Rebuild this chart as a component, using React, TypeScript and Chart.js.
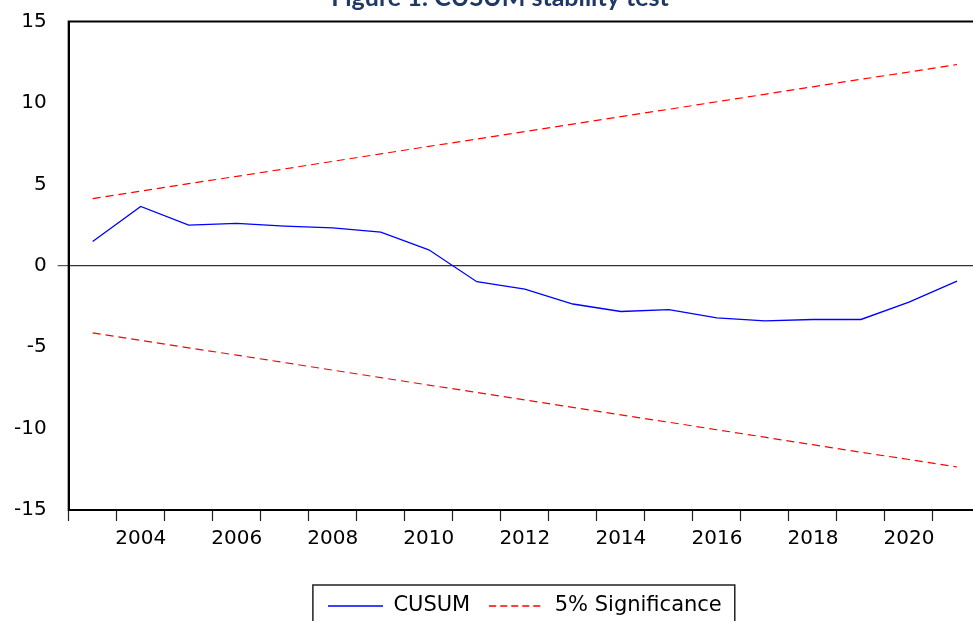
import React, { useEffect, useRef } from "react";
import { Chart, registerables } from "chart.js";

Chart.register(...registerables);

const years = ["2003","2004","2005","2006","2007","2008","2009","2010","2011","2012","2013","2014","2015","2016","2017","2018","2019","2020","2021"];
const cusum = [1.49, 3.64, 2.5, 2.6, 2.43, 2.32, 2.06, 0.98, -0.98, -1.43, -2.35, -2.81, -2.7, -3.2, -3.38, -3.3, -3.3, -2.23, -0.94];
const upperBound = [4.12, 4.58, 5.04, 5.49, 5.95, 6.41, 6.87, 7.33, 7.78, 8.24, 8.7, 9.16, 9.61, 10.07, 10.53, 10.99, 11.45, 11.9, 12.36];
const lowerBound = [-4.12, -4.58, -5.04, -5.49, -5.95, -6.41, -6.87, -7.33, -7.78, -8.24, -8.7, -9.16, -9.61, -10.07, -10.53, -10.99, -11.45, -11.9, -12.36];
const yTicks = [-15, -10, -5, 0, 5, 10, 15];
const titleText = "Figure 1: CUSUM stability test";
const seriesNames = ["CUSUM", "5% Significance"];

const CANVAS_W = 990;
const CANVAS_H = 680;
const PAD_BOTTOM = 43;
const OFFSET_TOP = 30;

function makeLegendLine(color: string, dash: number[]) {
  const c = document.createElement("canvas");
  c.width = 55;
  c.height = 4;
  const g = c.getContext("2d");
  if (g) {
    g.strokeStyle = color;
    g.lineWidth = 1.3;
    g.setLineDash(dash);
    g.beginPath();
    g.moveTo(0, 2);
    g.lineTo(55, 2);
    g.stroke();
  }
  return c;
}

const framePlugin = {
  id: "frameAndLegend",
  afterLayout(chart: any) {
    const ca = chart.chartArea;
    const lg = chart.legend;
    if (lg) {
      const center = (ca.left + ca.right) / 2;
      const cur = (lg.left + lg.right) / 2;
      lg.left += center - cur;
      lg.right += center - cur;
      const desiredTop = 636 - 19 - 10.5;
      const dy = desiredTop - lg.top;
      lg.top += dy;
      lg.bottom += dy;
    }
    const tb = chart.titleBlock;
    if (tb) {
      const cur = (tb.left + tb.right) / 2;
      const shift = 500 - cur;
      tb.left += shift;
      tb.right += shift;
    }
  },
  afterDraw(chart: any) {
    const ctx = chart.ctx;
    const ca = chart.chartArea;
    ctx.save();
    ctx.strokeStyle = "#000";
    ctx.lineWidth = 2;
    ctx.strokeRect(ca.left, ca.top, ca.right - ca.left, ca.bottom - ca.top);
    const lg = chart.legend;
    if (lg && lg.legendHitBoxes && lg.legendHitBoxes.length) {
      const hb = lg.legendHitBoxes;
      const first = hb[0];
      const last = hb[hb.length - 1];
      const cy = first.top + first.height / 2;
      const x0 = first.left - 15;
      const x1 = last.left + last.width + 13;
      ctx.lineWidth = 1.5;
      ctx.strokeStyle = "#222";
      ctx.strokeRect(x0, cy - 21, x1 - x0, 42);
    }
    ctx.restore();
  },
};

export default function App() {
  const ref = useRef<HTMLCanvasElement | null>(null);
  useEffect(() => {
    if (!ref.current) return;
    const legendImgs = [makeLegendLine("#0000FF", []), makeLegendLine("#FF0000", [7, 4])];
    const chart = new Chart(ref.current, {
      type: "line",
      data: {
        labels: years,
        datasets: [
          {
            label: seriesNames[0],
            data: cusum,
            borderColor: "#0000FF",
            backgroundColor: "#0000FF",
            borderWidth: 1.3,
            pointRadius: 0,
            tension: 0,
          },
          {
            label: seriesNames[1],
            data: upperBound,
            borderColor: "#FF0000",
            backgroundColor: "#FF0000",
            borderWidth: 1.2,
            borderDash: [8, 5],
            pointRadius: 0,
            tension: 0,
          },
          {
            label: seriesNames[1] + " (lower)",
            data: lowerBound,
            borderColor: "#FF0000",
            backgroundColor: "#FF0000",
            borderWidth: 1.2,
            borderDash: [8, 5],
            pointRadius: 0,
            tension: 0,
          },
        ],
      },
      options: {
        responsive: false,
        animation: false,
        devicePixelRatio: 1,
        layout: { padding: { left: 3, right: 9, top: 0, bottom: PAD_BOTTOM } },
        plugins: {
          title: {
            display: true,
            text: titleText,
            color: "#1F3864",
            font: { family: "Lato", weight: "bold", size: 25 },
            padding: { top: 13, bottom: 8.5 },
          },
          legend: {
            display: true,
            position: "bottom",
            labels: {
              usePointStyle: true,
              pointStyleWidth: 55,
              padding: 19,
              color: "#000",
              font: { family: "DejaVu Sans", size: 21 },
              generateLabels: (chart: any) => {
                const items = Chart.defaults.plugins.legend.labels.generateLabels(chart);
                return items
                  .filter((it: any) => it.datasetIndex < 2)
                  .map((it: any) => ({ ...it, pointStyle: legendImgs[it.datasetIndex] }));
              },
            },
          },
          tooltip: { enabled: false },
        },
        scales: {
          x: {
            type: "category",
            offset: true,
            grid: {
              offset: true,
              drawOnChartArea: false,
              drawTicks: true,
              tickLength: 11,
              tickColor: "#222",
              tickWidth: 1.2,
            },
            border: { display: true, color: "#000", width: 2 },
            ticks: {
              autoSkip: false,
              maxRotation: 0,
              minRotation: 0,
              padding: 6,
              color: "#000",
              font: { family: "DejaVu Sans", size: 20 },
              callback: function (this: any, value: any, index: number) {
                const y = parseInt(years[index], 10);
                return y % 2 === 0 ? years[index] : "";
              },
            },
          },
          y: {
            min: yTicks[0],
            max: yTicks[yTicks.length - 1],
            afterBuildTicks: (scale: any) => {
              scale.ticks = yTicks.map((v) => ({ value: v }));
            },
            grid: {
              drawOnChartArea: true,
              drawTicks: true,
              tickLength: 11,
              tickColor: "#555",
              color: (ctx: any) => (ctx.tick && ctx.tick.value === 0 ? "#333" : "rgba(0,0,0,0)"),
              lineWidth: (ctx: any) => (ctx.tick && ctx.tick.value === 0 ? 1.2 : 0),
            },
            border: { display: true, color: "#000", width: 2 },
            ticks: {
              padding: 11,
              color: "#000",
              font: { family: "DejaVu Sans", size: 20 },
            },
          },
        },
      },
      plugins: [framePlugin],
    } as any);
    return () => chart.destroy();
  }, []);
  return (
    <div style={{ position: "fixed", left: 0, top: 0, width: 973, height: 621, overflow: "hidden", background: "#fff" }}>
      <canvas
        ref={ref}
        width={CANVAS_W}
        height={CANVAS_H}
        style={{ position: "absolute", left: 0, top: -OFFSET_TOP, width: CANVAS_W, height: CANVAS_H }}
      />
    </div>
  );
}
